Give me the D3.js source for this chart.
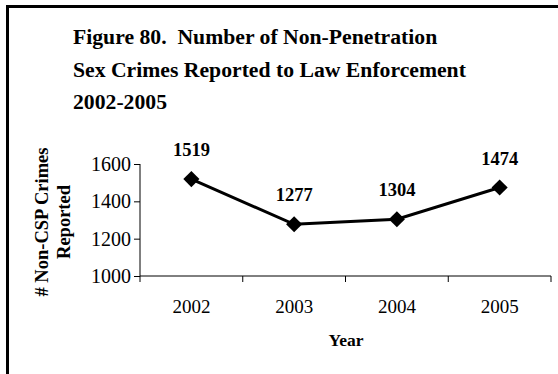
<!DOCTYPE html>
<html><head><meta charset="utf-8">
<script src="https://cdn.jsdelivr.net/npm/d3@7"></script>
<style>body{margin:0;background:#fff}svg{display:block}</style>
</head><body>
<script>
const years = ["2002","2003","2004","2005"];
const counts = [1519,1277,1304,1474];
const yTicks = [1000,1200,1400,1600];
const titleLines = ["Figure 80.  Number of Non-Penetration","Sex Crimes Reported to Law Enforcement","2002-2005"];
const yLabelLines = ["# Non-CSP Crimes","Reported"];
const xLabel = "Year";

const W=558,H=374;
const svg=d3.select("body").append("svg").attr("width",W).attr("height",H);
svg.append("rect").attr("width",W).attr("height",H).attr("fill","#fff");
svg.append("rect").attr("x",7.5).attr("y",6.5).attr("width",700).attr("height",500)
  .attr("fill","none").attr("stroke","#000").attr("stroke-width",3);

const font="'Liberation Serif','Times New Roman',serif";
const plot={left:140,right:551,top:164,bottom:276};
const x=d3.scaleBand().domain(years).range([plot.left,plot.right]);
const y=d3.scaleLinear().domain([1000,1600]).range([plot.bottom,plot.top]);

// title
svg.append("g").selectAll("text").data(titleLines).join("text")
  .attr("x",73).attr("y",(d,i)=>44+i*32.5).text(d=>d)
  .style("white-space","pre")
  .attr("font-family",font).attr("font-weight","bold").attr("font-size",21.7).attr("fill","#000");

// y axis
const ya=svg.append("g").attr("transform",`translate(${plot.left},0)`)
  .call(d3.axisLeft(y).tickValues(yTicks).tickSize(6).tickPadding(3).tickFormat(d3.format("d")));
ya.select(".domain").attr("d",`M0,${plot.top}V${plot.bottom+6}`);
ya.selectAll("text").attr("font-family",font).attr("font-size",20).attr("fill","#000");

// x axis
const xa=svg.append("g").attr("transform",`translate(0,${plot.bottom})`)
  .call(d3.axisBottom(x).tickSize(0).tickPadding(24));
xa.select(".domain").attr("d",`M${plot.left},0H${plot.right}`);
xa.selectAll("text").attr("font-family",font).attr("font-size",19).attr("fill","#000");
const bounds=years.map(d=>x(d)).concat([x(years[years.length-1])+x.bandwidth()]);
xa.append("g").selectAll("line").data(bounds.slice(1)).join("line")
  .attr("x1",d=>d).attr("x2",d=>d).attr("y1",0).attr("y2",6).attr("stroke","#000");

// axis titles
svg.append("text").attr("x",346).attr("y",346).attr("text-anchor","middle").text(xLabel)
  .attr("font-family",font).attr("font-weight","bold").attr("font-size",17.5);
svg.append("g").selectAll("text").data(yLabelLines).join("text")
  .attr("transform",(d,i)=>`translate(${48+i*22},222) rotate(-90)`).attr("text-anchor","middle").text(d=>d)
  .attr("font-family",font).attr("font-weight","bold").attr("font-size",18.5);

// line
const cx=d=>x(d)+x.bandwidth()/2;
svg.append("path").datum(years.map((d,i)=>[cx(d),y(counts[i])]))
  .attr("d",d3.line()).attr("fill","none").attr("stroke","#000").attr("stroke-width",3);
svg.append("g").selectAll("path").data(years).join("path")
  .attr("transform",(d,i)=>`translate(${cx(d)},${y(counts[i])}) rotate(45)`)
  .attr("d",d3.symbol(d3.symbolSquare,130)()).attr("fill","#000");
svg.append("g").selectAll("text").data(years).join("text")
  .attr("x",d=>cx(d)).attr("y",(d,i)=>y(counts[i])-23).attr("text-anchor","middle")
  .text((d,i)=>counts[i]).attr("font-family",font).attr("font-weight","bold").attr("font-size",18.5);
</script>
</body></html>
